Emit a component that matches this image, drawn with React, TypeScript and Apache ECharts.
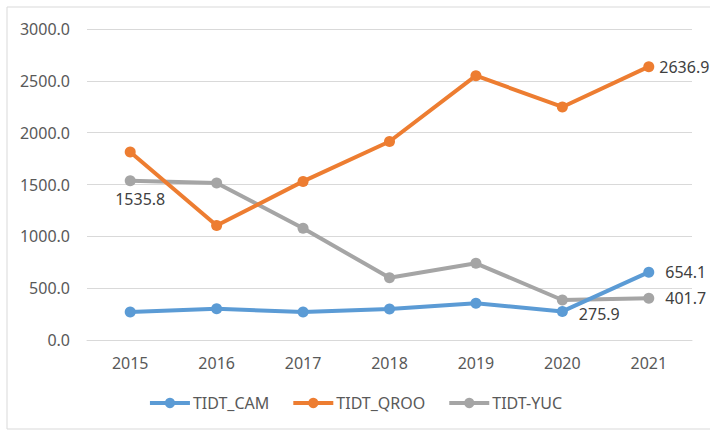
import React, { useEffect, useRef } from "react";
import * as echarts from "echarts";

const categories = ["2015", "2016", "2017", "2018", "2019", "2020", "2021"];
const seriesNames = ["TIDT_CAM", "TIDT_QROO", "TIDT-YUC"];
const camValues = [270, 302, 270, 298, 355, 275.9, 654.1];
const qrooValues = [1813, 1105, 1530, 1915, 2550, 2248, 2636.9];
const yucValues = [1535.8, 1515, 1078, 600, 740, 386, 401.7];
// indices of points that carry a data label
const camLabelIdx = [5, 6];
const qrooLabelIdx = [6];
const yucLabelIdx = [0, 6];

const FONT = "'Noto Sans', 'Open Sans', sans-serif";

type LabelSpec = { pos: string; dist: number; off: number[] };

export default function App() {
  const ref = useRef<HTMLDivElement>(null);
  useEffect(() => {
    if (!ref.current) return;
    const chart = echarts.init(ref.current, undefined, { renderer: "svg" });
    const mk = (vals: number[], idx: number[], specs: LabelSpec[]) =>
      vals.map((v, i) => {
        const k = idx.indexOf(i);
        if (k < 0) return v;
        const s = specs[k];
        return {
          value: v,
          label: {
            show: true,
            position: s.pos as any,
            distance: s.dist,
            offset: s.off,
            formatter: (p: any) => Number(p.value).toFixed(1),
            color: "#404040",
            fontSize: 16,
            fontFamily: FONT,
          },
        };
      });
    const common = {
      type: "line" as const,
      symbol: "circle",
      symbolSize: 11,
      lineStyle: { width: 4 },
    };
    chart.setOption({
      animation: false,
      graphic: [
        {
          type: "rect",
          shape: { x: 7, y: 7, width: 720, height: 422 },
          style: { fill: "none", stroke: "#d9d9d9", lineWidth: 1 },
          silent: true,
        },
      ],
      grid: { left: 87, right: 18, top: 29, bottom: 91 },
      legend: {
        bottom: 15,
        left: "center",
        itemWidth: 40,
        itemHeight: 13,
        itemGap: 22,
        lineStyle: { width: 4 },
        textStyle: { color: "#595959", fontSize: 16, fontFamily: FONT, padding: [0, 0, 0, -2] },
        data: seriesNames,
      },
      xAxis: {
        type: "category",
        data: categories,
        boundaryGap: true,
        axisLine: { lineStyle: { color: "#d9d9d9", width: 1 } },
        axisTick: { show: false },
        axisLabel: { color: "#595959", fontSize: 16, fontFamily: FONT, margin: 15 },
      },
      yAxis: {
        type: "value",
        min: 0,
        max: 3000,
        interval: 500,
        axisLine: { show: false },
        axisTick: { show: false },
        splitLine: { lineStyle: { color: "#d9d9d9", width: 1 } },
        axisLabel: {
          color: "#595959",
          fontSize: 16,
          fontFamily: FONT,
          margin: 17,
          formatter: (v: number) => v.toFixed(1),
        },
      },
      series: [
        {
          ...common,
          name: seriesNames[0],
          color: "#5B9BD5",
          data: mk(camValues, camLabelIdx, [
            { pos: "right", dist: 11, off: [0, 3] },
            { pos: "right", dist: 11, off: [0, 0] },
          ]),
          z: 4,
        },
        {
          ...common,
          name: seriesNames[1],
          color: "#ED7D31",
          data: mk(qrooValues, qrooLabelIdx, [{ pos: "right", dist: 5, off: [0, 0] }]),
          z: 3,
        },
        {
          ...common,
          name: seriesNames[2],
          color: "#A5A5A5",
          data: mk(yucValues, yucLabelIdx, [
            { pos: "bottom", dist: 5, off: [10, 0] },
            { pos: "right", dist: 11, off: [0, 0] },
          ]),
          z: 2,
        },
      ],
    });
    return () => chart.dispose();
  }, []);
  return (
    <div
      ref={ref}
      style={{ position: "fixed", left: 0, top: 0, width: 710, height: 431, background: "#fff" }}
    />
  );
}
